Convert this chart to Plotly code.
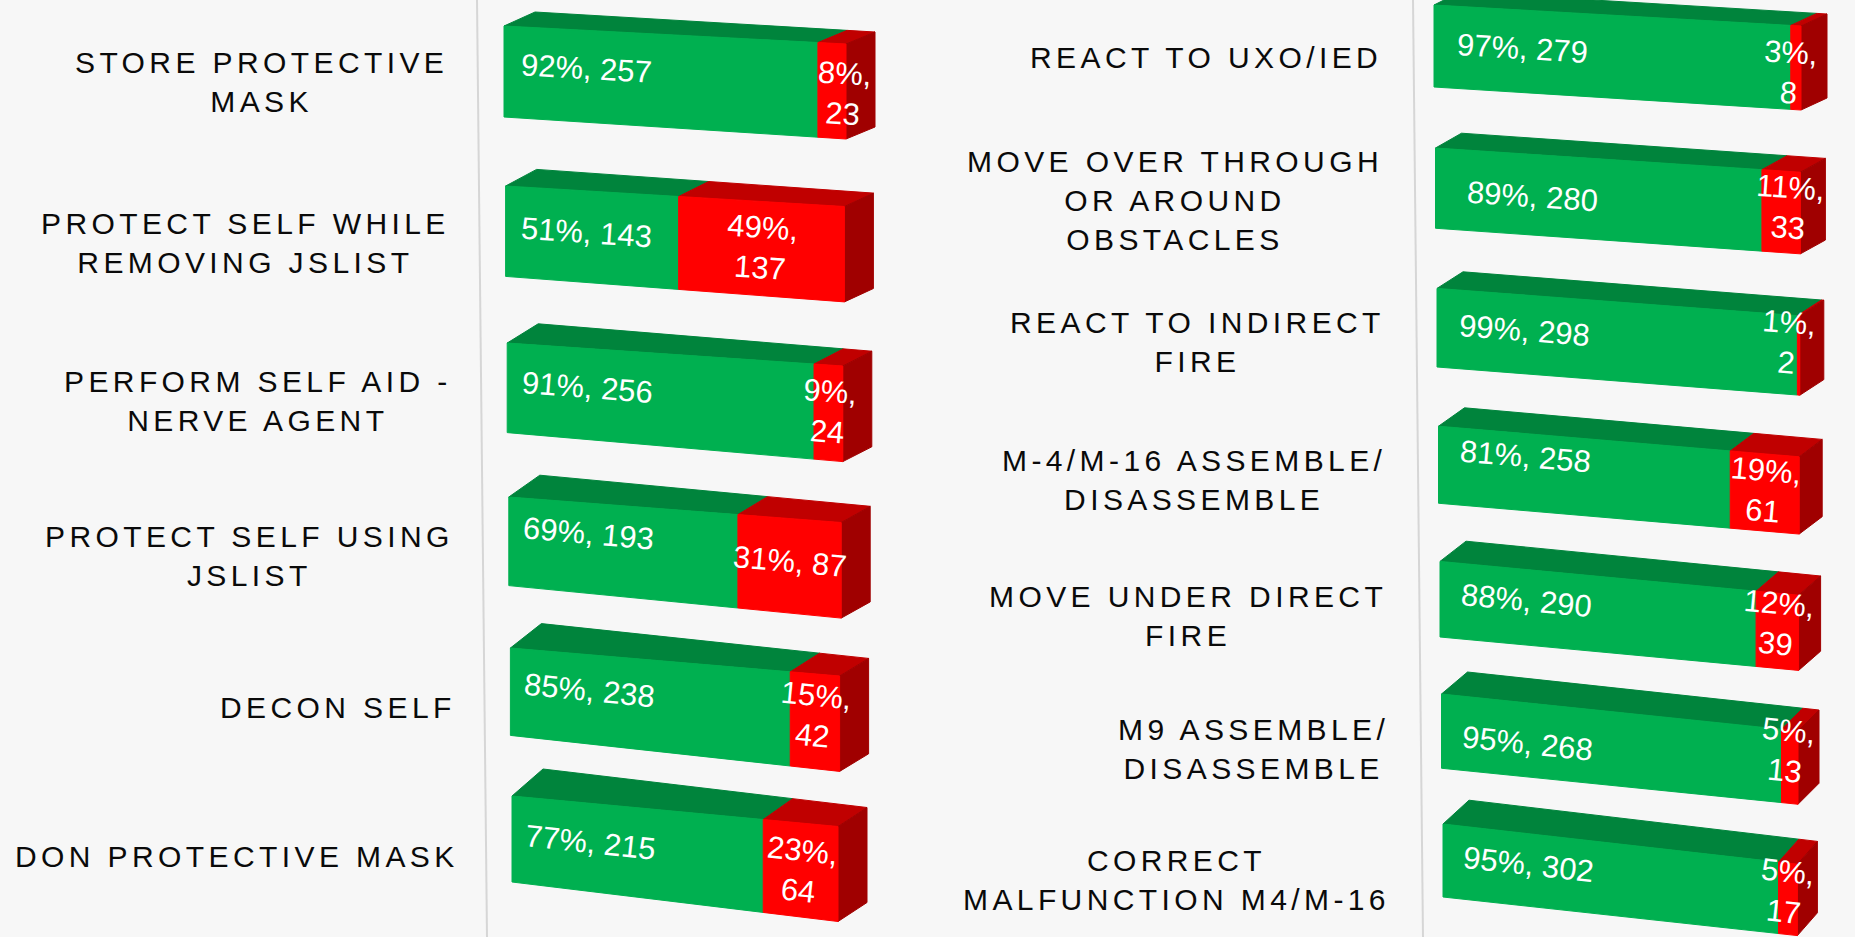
import math
import plotly.graph_objects as go

# ---------------- DATA ----------------
left_tasks = [
    "STORE PROTECTIVE<br>MASK",
    "PROTECT SELF WHILE<br>REMOVING JSLIST",
    "PERFORM SELF AID -<br>NERVE AGENT",
    "PROTECT SELF USING<br>JSLIST",
    "DECON SELF",
    "DON PROTECTIVE MASK",
]
left_go = [257, 143, 256, 193, 238, 215]
left_nogo = [23, 137, 24, 87, 42, 64]
left_go_pct = [92, 51, 91, 69, 85, 77]
left_nogo_pct = [8, 49, 9, 31, 15, 23]

right_tasks = [
    "REACT TO UXO/IED",
    "MOVE OVER THROUGH<br>OR AROUND<br>OBSTACLES",
    "REACT TO INDIRECT<br>FIRE",
    "M-4/M-16 ASSEMBLE/<br>DISASSEMBLE",
    "MOVE UNDER DIRECT<br>FIRE",
    "M9 ASSEMBLE/<br>DISASSEMBLE",
    "CORRECT<br>MALFUNCTION M4/M-16",
]
right_go = [279, 280, 298, 258, 290, 268, 302]
right_nogo = [8, 33, 2, 61, 39, 13, 17]
right_go_pct = [97, 89, 99, 81, 88, 95, 95]
right_nogo_pct = [3, 11, 1, 19, 12, 5, 5]

# ---------------- STYLE ----------------
left_nogo_wrap = [True, True, True, False, True, True]
right_nogo_wrap = [True, True, True, True, True, True, True]

# label nudges (pixels) as placed in the original chart
left_go_nudge = [(0, -5), (0, -1), (0, -4), (0, -12), (0, -6), (0, -2)]
right_go_nudge = [(0, 0), (9, 5), (0, -1), (0, -13), (0, -4), (0, 7), (0, -2)]
left_nogo_nudge = [(12, 2), (0, -2), (0, -2), (0, -5), (0, -7), (0, 0)]
right_nogo_nudge = [(0, 4), (8, -5), (0, -14), (0, -3), (0, -8), (0, -17), (0, -8)]

GREEN_FRONT = "#00b050"
GREEN_TOP = "#00843c"
RED_FRONT = "#ff0000"
RED_TOP = "#c00000"
RED_END = "#a00000"
BG = "#f7f7f7"
WALL = "#d6d6d6"
FONT = "Liberation Sans, Arial, sans-serif"
W, H = 1855, 937

# perspective model of each panel (pixel space of the figure axes)
LEFT_GEOM = dict(
    L=lambda i: 504 + 1.6 * i,
    R=lambda i: 846 - 1.6 * i,
    TL=lambda i: 26 + 161.5 * i - 1.5 * i * i,
    BL=lambda i: 117 + 161 * i - 1.6 * i * i,
    st=lambda i: 18 + 2.5 * i,
    sb=lambda i: 22 + 3.5 * i,
    dxl=lambda i: 31,
    dxr=lambda i: 29,
    dyl=lambda i: -14 - 2.6 * i,
    dyr=lambda i: -12 - 1.4 * i,
    lab=lambda i: 450 + 2.1 * i,
    wall=((477, 0), (487, H)),
)
RIGHT_GEOM = dict(
    L=lambda i: 1434 + 1.5 * i,
    R=lambda i: 1801 - 0.6 * i,
    TL=lambda i: 5 + 144.3 * i - 1.3 * i * i,
    BL=lambda i: 87 + 142.5 * i - 1.25 * i * i,
    st=lambda i: 21 + 3.2 * i,
    sb=lambda i: 23 + 2.6 * i,
    dxl=lambda i: 26,
    dxr=lambda i: 26 - 1.0 * i,
    dyl=lambda i: -13 - 1.8 * i,
    dyr=lambda i: -12 - 1.8 * i,
    lab=lambda i: 1384 + 1.3 * i,
    wall=((1413, 0), (1423, H)),
)


def front(g, i, u, v):
    x = g["L"](i) + u * (g["R"](i) - g["L"](i))
    yt = g["TL"](i) + u * g["st"](i)
    yb = g["BL"](i) + u * g["sb"](i)
    return x, yt + v * (yb - yt)


def depth(g, i, u):
    dx = g["dxl"](i) + u * (g["dxr"](i) - g["dxl"](i))
    dy = g["dyl"](i) + u * (g["dyr"](i) - g["dyl"](i))
    return dx, dy


def add(pt, d):
    return pt[0] + d[0], pt[1] + d[1]


polys = {k: ([], []) for k in ["gtop", "rtop", "rend", "gfront", "rfront"]}


def push(key, pts):
    xs, ys = polys[key]
    for p in pts + [pts[0]]:
        xs.append(p[0])
        ys.append(p[1])
    xs.append(None)
    ys.append(None)


annotations = []


def build_panel(g, tasks, go_n, nogo_n, go_pct, nogo_pct, wrap, go_nudge, nogo_nudge):
    for i in range(len(tasks)):
        ub = go_n[i] / (go_n[i] + nogo_n[i])
        # front faces
        push("gfront", [front(g, i, 0, 0), front(g, i, ub, 0), front(g, i, ub, 1), front(g, i, 0, 1)])
        push("rfront", [front(g, i, ub, 0), front(g, i, 1, 0), front(g, i, 1, 1), front(g, i, ub, 1)])
        # top faces
        push("gtop", [front(g, i, 0, 0), front(g, i, ub, 0),
                      add(front(g, i, ub, 0), depth(g, i, ub)), add(front(g, i, 0, 0), depth(g, i, 0))])
        push("rtop", [front(g, i, ub, 0), front(g, i, 1, 0),
                      add(front(g, i, 1, 0), depth(g, i, 1)), add(front(g, i, ub, 0), depth(g, i, ub))])
        # end face
        push("rend", [front(g, i, 1, 0), add(front(g, i, 1, 0), depth(g, i, 1)),
                      add(front(g, i, 1, 1), depth(g, i, 1)), front(g, i, 1, 1)])

        width = g["R"](i) - g["L"](i)
        ang = math.degrees(math.atan(((g["st"](i) + g["sb"](i)) / 2) / width))

        # green label
        gx, gy = front(g, i, 0.24, 0.5)
        annotations.append(dict(
            x=gx + go_nudge[i][0], y=gy - 3 + go_nudge[i][1], xref="x", yref="y",
            text=f"{go_pct[i]}%, {go_n[i]}",
            showarrow=False, xanchor="center", yanchor="middle", textangle=ang,
            font=dict(family=FONT, size=31, color="white"),
        ))
        # red label
        uc = (ub + 1) / 2
        rx, ry = front(g, i, uc, 0.5)
        rx = min(rx, g["R"](i) - 12)
        sep = ",<br>" if wrap[i] else ", "
        annotations.append(dict(
            x=rx + nogo_nudge[i][0], y=ry + 1 + nogo_nudge[i][1], xref="x", yref="y",
            text=f"{nogo_pct[i]}%{sep}{nogo_n[i]}",
            showarrow=False, xanchor="center", yanchor="middle", textangle=ang, align="center",
            font=dict(family=FONT, size=31, color="white"),
        ))
        # category label
        lx = g["lab"](i)
        _, ly = front(g, i, 0.5, 0.5)
        txt = "<br>".join(
            f"<span style='letter-spacing:4.4px'>{line}</span>" for line in tasks[i].split("<br>")
        )
        annotations.append(dict(
            x=lx, y=ly, xref="x", yref="y", text=txt, showarrow=False,
            xanchor="right", yanchor="middle", align="center",
            font=dict(family=FONT, size=30, color="#0a0a0a"),
        ))


build_panel(LEFT_GEOM, left_tasks, left_go, left_nogo, left_go_pct, left_nogo_pct,
            left_nogo_wrap, left_go_nudge, left_nogo_nudge)
build_panel(RIGHT_GEOM, right_tasks, right_go, right_nogo, right_go_pct, right_nogo_pct,
            right_nogo_wrap, right_go_nudge, right_nogo_nudge)

fig = go.Figure()

# wall edges
for g in (LEFT_GEOM, RIGHT_GEOM):
    (x0, y0), (x1, y1) = g["wall"]
    fig.add_trace(go.Scatter(x=[x0, x1], y=[y0, y1], mode="lines",
                             line=dict(color=WALL, width=2), hoverinfo="skip"))

colors = {"gtop": GREEN_TOP, "rtop": RED_TOP, "rend": RED_END,
          "gfront": GREEN_FRONT, "rfront": RED_FRONT}
names = {"gtop": "GO (top)", "rtop": "NO GO (top)", "rend": "NO GO (end)",
         "gfront": "GO", "rfront": "NO GO"}
for key in ["gtop", "rtop", "rend", "gfront", "rfront"]:
    xs, ys = polys[key]
    fig.add_trace(go.Scatter(
        x=xs, y=ys, mode="lines", fill="toself", fillcolor=colors[key],
        line=dict(color=colors[key], width=1), name=names[key], hoverinfo="skip",
    ))

fig.update_layout(
    width=W, height=H,
    margin=dict(l=0, r=0, t=0, b=0),
    paper_bgcolor=BG, plot_bgcolor=BG,
    showlegend=False,
    xaxis=dict(range=[0, W], visible=False, fixedrange=True),
    yaxis=dict(range=[H, 0], visible=False, fixedrange=True),
    annotations=annotations,
)

fig.write_html(
    "out.html",
    config={"displayModeBar": False},
    post_script="document.body.style.margin='0';document.body.style.overflow='hidden';",
)
